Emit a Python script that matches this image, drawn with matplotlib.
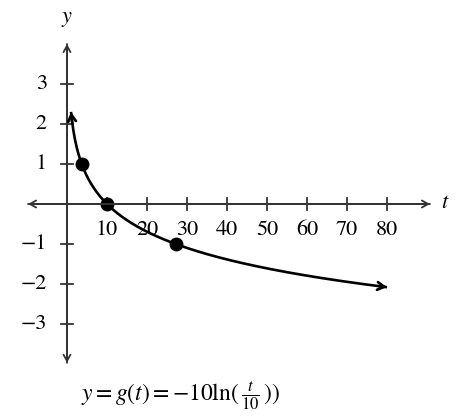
import numpy as np
import matplotlib.pyplot as plt

plt.rcParams['font.family'] = ['STIXGeneral', 'DejaVu Serif']
plt.rcParams['mathtext.fontset'] = 'stix'

# ticks and marked points
x_ticks = [10, 20, 30, 40, 50, 60, 70, 80]
y_ticks = [-3, -2, -1, 1, 2, 3]
pt_t = [3.68, 10, 27.18]
pt_y = [1, 0, -1]
t_start, t_end = 1.0, 80.0


def g(t):
    return -np.log(t / 10)


fig = plt.figure(figsize=(4.62, 4.16), dpi=100)
ax = fig.add_axes([0, 0, 1, 1])
ax.set_xlim(-16.75, 98.75)
ax.set_ylim(-5.3, 5.1)
ax.axis('off')

axis_col = '#333333'
arrow = dict(arrowstyle='->,head_length=0.45,head_width=0.25', color=axis_col,
             lw=1.3, shrinkA=0, shrinkB=0)
# axes with arrows at both ends
ax.annotate('', xy=(90.75, 0), xytext=(-9.75, 0), arrowprops=arrow)
ax.annotate('', xy=(-9.75, 0), xytext=(90.75, 0), arrowprops=arrow)
ax.annotate('', xy=(0, 4.0), xytext=(0, -3.97), arrowprops=arrow)
ax.annotate('', xy=(0, -3.97), xytext=(0, 4.0), arrowprops=arrow)

for xt in x_ticks:
    ax.plot([xt, xt], [-0.15, 0.15], color=axis_col, lw=1.3)
    ax.text(xt, -0.66, str(xt), ha='center', va='center', fontsize=16)
for yt in y_ticks:
    ax.plot([-1.5, 1.5], [yt, yt], color=axis_col, lw=1.3)
    ax.text(-5.0, yt, str(yt).replace('-', '\u2212'), ha='right', va='center', fontsize=16)

ax.text(94.5, 0.02, '$t$', ha='center', va='center', fontsize=16)
ax.text(0, 4.62, '$y$', ha='center', va='center', fontsize=16)

# the curve
t = np.linspace(t_start, t_end, 400)
ax.plot(t, g(t), color='black', lw=1.9, solid_capstyle='butt')
carrow = dict(arrowstyle='->,head_length=0.5,head_width=0.28', color='black',
              lw=1.9, shrinkA=0, shrinkB=0)
ax.annotate('', xy=(t_start, g(t_start)), xytext=(t_start + 0.3, g(t_start + 0.3)),
            arrowprops=carrow)
ax.annotate('', xy=(t_end, g(t_end)), xytext=(t_end - 2, g(t_end - 2)),
            arrowprops=carrow)
ax.plot(pt_t, pt_y, 'o', color='black', markersize=9)

ax.text(28.3, -4.78, r'$y = g(t) = -10\ln(\,\frac{t}{10}\,))$', ha='center', va='center',
        fontsize=17)

fig.savefig('out.png', dpi=100)
